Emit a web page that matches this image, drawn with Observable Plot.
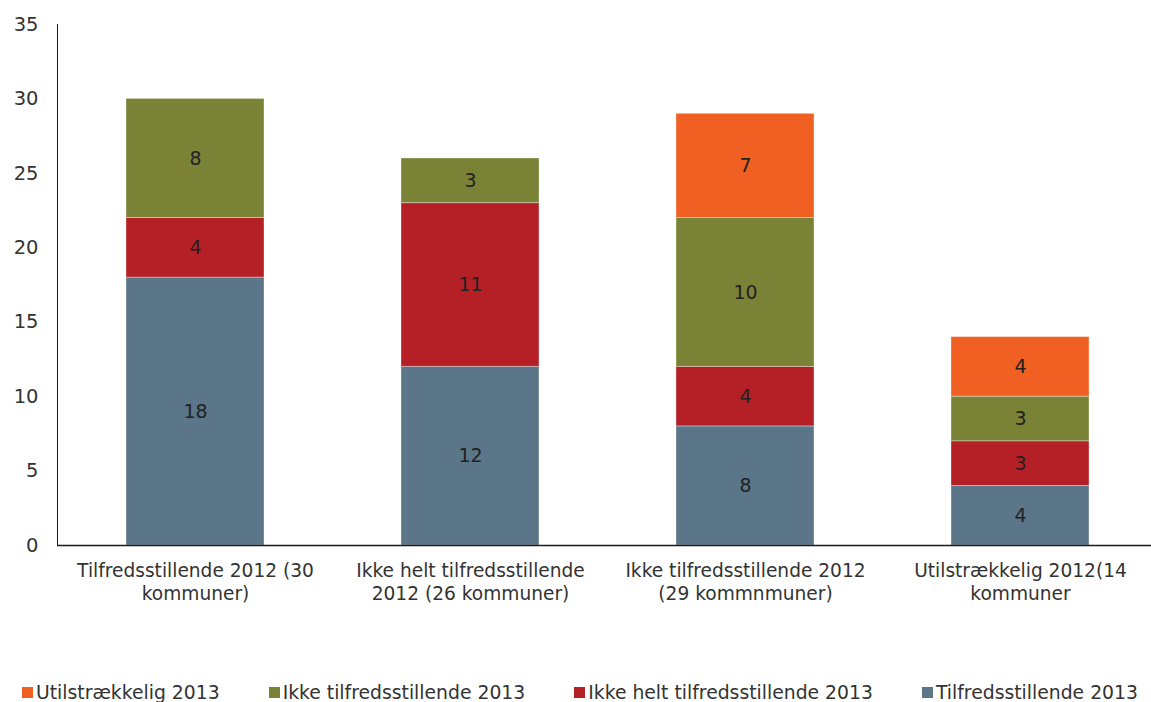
<!DOCTYPE html>
<html>
<head>
<meta charset="utf-8">
<script src="https://cdn.jsdelivr.net/npm/d3@7"></script>
<script src="https://cdn.jsdelivr.net/npm/@observablehq/plot@0.6"></script>
<style>
  html, body { margin: 0; padding: 0; background: #fff; }
  body { width: 1151px; height: 702px; overflow: hidden; font-family: "DejaVu Sans", Verdana, sans-serif; }
  #legend { display: flex; gap: 49px; padding-left: 22px; margin-top: 62px; font-size: 18.8px; color: #333; }
  .item { display: flex; align-items: center; white-space: nowrap; }
  .sw { width: 11px; height: 11px; margin-right: 3px; }
</style>
</head>
<body>
<div id="chart"></div>
<div id="legend"></div>
<script>
const categories = [
  "Tilfredsstillende 2012 (30\nkommuner)",
  "Ikke helt tilfredsstillende\n2012 (26 kommuner)",
  "Ikke tilfredsstillende 2012\n(29 kommnmuner)",
  "Utilstrækkelig 2012(14\nkommuner"
];
const seriesNames = [
  "Tilfredsstillende 2013",
  "Ikke helt tilfredsstillende 2013",
  "Ikke tilfredsstillende 2013",
  "Utilstrækkelig 2013"
];
const seriesColors = ["#5B7688", "#B51F26", "#7A8236", "#F06022"];
const tilfreds2013 = [18, 12, 8, 4];
const ikkeHelt2013 = [4, 11, 4, 3];
const ikkeTilfreds2013 = [8, 3, 10, 3];
const utilstr2013 = [0, 0, 7, 4];
const yTicks = [0, 5, 10, 15, 20, 25, 30, 35];
const legendOrder = [3, 2, 1, 0];

const seriesValues = [tilfreds2013, ikkeHelt2013, ikkeTilfreds2013, utilstr2013];
const rows = [];
seriesNames.forEach((s, si) => {
  categories.forEach((c, ci) => {
    const v = seriesValues[si][ci];
    if (v > 0) rows.push({category: c, series: s, value: v});
  });
});

const chart = Plot.plot({
  width: 1151,
  height: 620,
  marginLeft: 57,
  marginRight: -6,
  marginTop: 24,
  marginBottom: 75,
  style: {fontFamily: "DejaVu Sans, Verdana, sans-serif", background: "white"},
  x: {domain: categories, paddingInner: 0.5, paddingOuter: 0.25, label: null},
  y: {domain: [0, 35], label: null},
  color: {domain: seriesNames, range: seriesColors},
  marks: [
    Plot.barY(rows, Plot.stackY({x: "category", y: "value", fill: "series", stroke: "white", strokeOpacity: 0.35, strokeWidth: 1})),
    Plot.text(rows, Plot.stackY({x: "category", y: "value", text: d => String(d.value), fill: "#222", fontSize: 19})),
    Plot.frame({anchor: "left", stroke: "#1a1a1a"}),
    Plot.ruleY([0], {stroke: "#1a1a1a", strokeWidth: 1.5}),
    Plot.axisY({ticks: yTicks, tickSize: 0, tickPadding: 19, fontSize: 19.5, color: "#333", label: null}),
    Plot.axisX({tickSize: 0, tickPadding: 15, fontSize: 18.6, lineHeight: 1.25, color: "#333", label: null})
  ]
});
document.getElementById("chart").appendChild(chart);

const legend = document.getElementById("legend");
legendOrder.forEach(i => {
  const item = document.createElement("div");
  item.className = "item";
  const sw = document.createElement("span");
  sw.className = "sw";
  sw.style.background = seriesColors[i];
  const label = document.createElement("span");
  label.textContent = seriesNames[i];
  item.appendChild(sw);
  item.appendChild(label);
  legend.appendChild(item);
});
</script>
</body>
</html>
